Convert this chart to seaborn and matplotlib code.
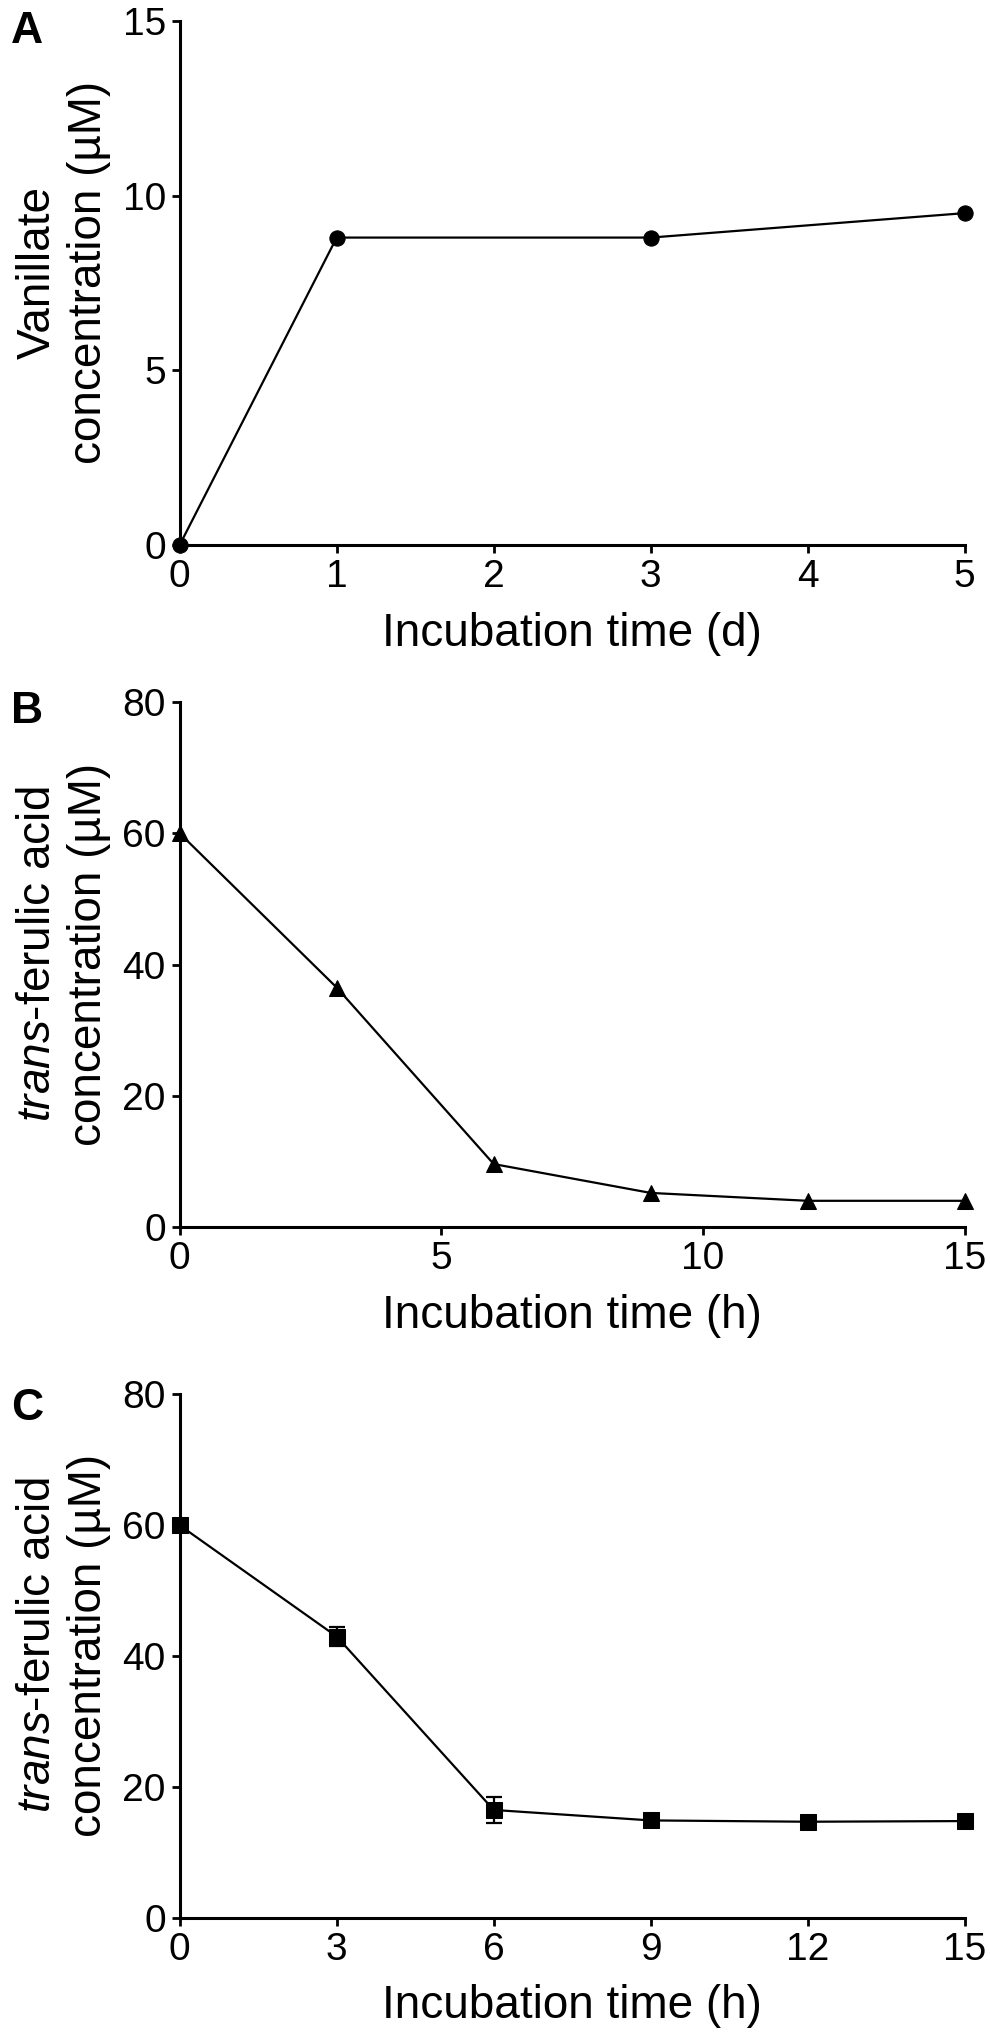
import numpy as np
import pandas as pd
import matplotlib
matplotlib.use("Agg")
import matplotlib.pyplot as plt
import seaborn as sns

# ------------------------------
# Data
# ------------------------------
days_a = [0, 1, 3, 5]
vanillate_a = [0, 8.8, 8.8, 9.5]

hours_b = [0, 3, 6, 9, 12, 15]
ferulic_b = [60, 36.5, 9.6, 5.2, 4.0, 4.0]

hours_c = [0, 3, 6, 9, 12, 15]
ferulic_c = [60, 43, 16.5, 14.9, 14.7, 14.8]
ferulic_c_err = [0.4, 1.5, 2.0, 0.5, 0.4, 0.4]

xticks_a = [0, 1, 2, 3, 4, 5]
xticks_b = [0, 5, 10, 15]
xticks_c = [0, 3, 6, 9, 12, 15]
yticks_a = [0, 5, 10, 15]
yticks_bc = [0, 20, 40, 60, 80]

sns.set_style("ticks")
plt.rcParams["font.family"] = ["Liberation Sans", "DejaVu Sans"]
plt.rcParams["mathtext.fontset"] = "custom"
plt.rcParams["mathtext.rm"] = "Liberation Sans"
plt.rcParams["mathtext.it"] = "Liberation Sans:italic"
plt.rcParams["text.color"] = "black"
plt.rcParams["axes.labelcolor"] = "black"

fig = plt.figure(figsize=(9.9, 20.41), dpi=100)

left, width = 0.1815, 0.793
ax_a = fig.add_axes([left, 0.733, width, 0.2567])
ax_b = fig.add_axes([left, 0.3988, width, 0.2572])
ax_c = fig.add_axes([left, 0.0603, width, 0.2565])

tick_fs = 28
label_fs = 33


def style_axis(ax, xticks, yticks, xlabel, ylabel):
    ax.set_xlim(xticks[0], xticks[-1])
    ax.set_ylim(yticks[0], yticks[-1])
    ax.set_xticks(xticks)
    ax.set_yticks(yticks)
    sns.despine(ax=ax)
    for s in ["left", "bottom"]:
        ax.spines[s].set_linewidth(2.2)
        ax.spines[s].set_color("black")
    ax.tick_params(axis="both", direction="out", length=6, width=2,
                   labelsize=tick_fs, colors="black", pad=4)
    ax.set_xlabel(xlabel, fontsize=label_fs, labelpad=12, color="black")
    ax.set_ylabel(ylabel, fontsize=label_fs, color="black")
    ax.yaxis.set_label_coords(-0.088, 0.52)


# Panel A
df_a = pd.DataFrame({"t": days_a, "c": vanillate_a})
sns.lineplot(data=df_a, x="t", y="c", ax=ax_a, color="black", lw=1.6,
             marker="o", markersize=11, markeredgecolor="black",
             clip_on=False, zorder=5)
style_axis(ax_a, xticks_a, yticks_a, "Incubation time (d)",
           "Vanillate\nconcentration (µM)")

# Panel B
df_b = pd.DataFrame({"t": hours_b, "c": ferulic_b})
sns.lineplot(data=df_b, x="t", y="c", ax=ax_b, color="black", lw=1.6,
             marker="^", markersize=12, markeredgecolor="black",
             clip_on=False, zorder=5)
style_axis(ax_b, xticks_b, yticks_bc, "Incubation time (h)",
           "$\\it{trans}$-ferulic acid\nconcentration (µM)")

# Panel C
df_c = pd.DataFrame({"t": hours_c, "c": ferulic_c, "e": ferulic_c_err})
ax_c.errorbar(df_c["t"], df_c["c"], yerr=df_c["e"], fmt="none",
              ecolor="black", elinewidth=1.6, capsize=6, capthick=1.6,
              clip_on=False, zorder=4)
sns.lineplot(data=df_c, x="t", y="c", ax=ax_c, color="black", lw=1.6,
             marker="s", markersize=11, markeredgecolor="black",
             clip_on=False, zorder=5)
style_axis(ax_c, xticks_c, yticks_bc, "Incubation time (h)",
           "$\\it{trans}$-ferulic acid\nconcentration (µM)")

# Panel letters (baseline placed where the reference letters sit)
for lab, y in [("A", 0.9789), ("B", 0.6458), ("C", 0.3043)]:
    fig.text(0.011, y, lab, fontsize=32, fontweight="bold", color="black",
             va="baseline", ha="left")

fig.savefig("out.png", dpi=100)
